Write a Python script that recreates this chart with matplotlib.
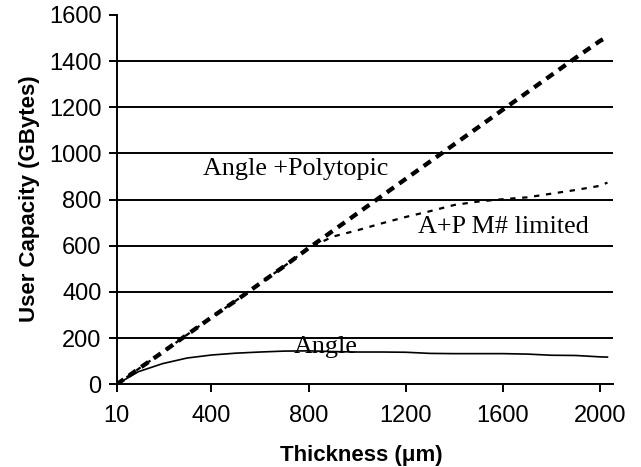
import matplotlib
matplotlib.use("Agg")
import matplotlib.pyplot as plt

# Data
thickness = [10, 100, 200, 300, 400, 500, 600, 700, 800, 900, 1000, 1100, 1200,
             1300, 1400, 1500, 1600, 1700, 1800, 1900, 2000, 2030]
angle_polytopic = [0, 67, 140, 215, 290, 362, 437, 512, 590, 665, 740, 815, 890,
                   965, 1040, 1115, 1190, 1265, 1340, 1415, 1488, 1505]
mnum_limited = [0, 67, 140, 215, 290, 362, 437, 512, 590, 640, 667, 697, 725,
                750, 777, 792, 802, 810, 826, 842, 860, 874]
angle = [0, 55, 90, 114, 127, 135, 140, 144, 145, 142, 140, 140, 139,
         134, 133, 133, 133, 131, 126, 125, 119, 118]

xticks = [10, 400, 800, 1200, 1600, 2000]
yticks = [0, 200, 400, 600, 800, 1000, 1200, 1400, 1600]
gridlines = [200, 400, 600, 800, 1000, 1200, 1400]

fig = plt.figure(figsize=(6.41, 4.67), dpi=100)
ax = fig.add_axes([0.182, 0.177, 0.774, 0.791])

for g in gridlines:
    ax.axhline(g, color="black", lw=1.4, zorder=1)

ax.plot(thickness, angle_polytopic, color="black", lw=3.1,
        dashes=(2.0, 1.5), zorder=3)
ax.plot(thickness, mnum_limited, color="black", lw=1.6,
        dashes=(2.4, 3.0), zorder=2)
ax.plot(thickness, angle, color="black", lw=1.2, zorder=2)

ax.set_xlim(10, 2052)
ax.set_ylim(0, 1600)
ax.set_xticks(xticks)
ax.set_yticks(yticks)
ax.tick_params(axis="both", direction="out", length=6, width=1.4,
               labelsize=17, colors="black")
ax.tick_params(axis="x", pad=9)
ax.tick_params(axis="y", pad=5)
for lab in ax.get_xticklabels() + ax.get_yticklabels():
    lab.set_fontfamily("Liberation Sans")

for s in ["top", "right"]:
    ax.spines[s].set_visible(False)
for s in ["left", "bottom"]:
    ax.spines[s].set_linewidth(1.4)

ax.set_xlabel("Thickness (\u03bcm)", fontsize=16, fontweight="bold",
              family="Liberation Sans")
ax.set_ylabel("User Capacity (GBytes)", fontsize=16, fontweight="bold",
              family="Liberation Sans")
ax.xaxis.set_label_coords(0.494, -0.164)
ax.yaxis.set_label_coords(-0.155, 0.502)

ax.text(367, 931, "Angle +Polytopic", family="Liberation Serif", fontsize=18.8,
        va="center", ha="left", zorder=4)
ax.text(1252, 683, "A+P M# limited", family="Liberation Serif", fontsize=18.8,
        va="center", ha="left", zorder=4)
ax.text(737, 163, "Angle", family="Liberation Serif", fontsize=18.8,
        va="center", ha="left", zorder=4)

fig.savefig("out.png", dpi=100)
